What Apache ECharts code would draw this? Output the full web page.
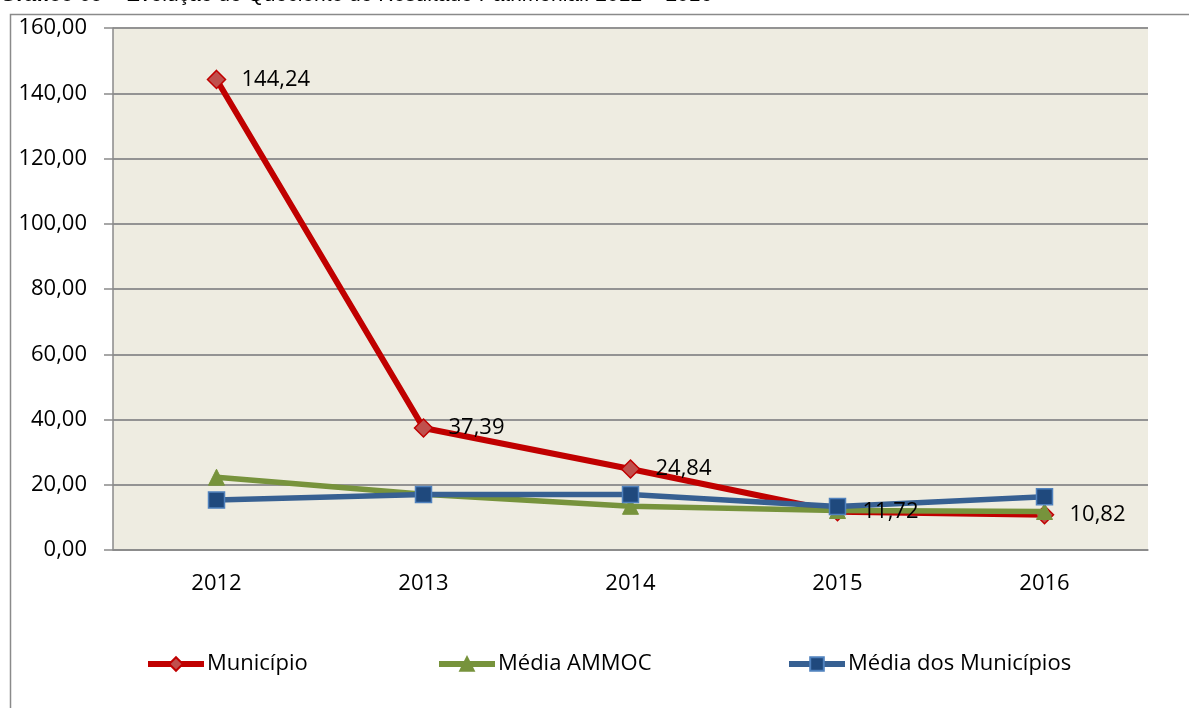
<!DOCTYPE html>
<html lang="pt">
<head>
    <meta charset="UTF-8">
    <title>Quociente do Resultado Patrimonial</title>
    <script src="https://cdn.jsdelivr.net/npm/echarts@6/dist/echarts.min.js"></script>
    <style>
        html, body { margin: 0; padding: 0; background: #fff; }
        #main { width: 1189px; height: 708px; }
    </style>
</head>
<body>
<div id="main"></div>
<script>
    // dados do gráfico
    var anos = ['2012', '2013', '2014', '2015', '2016'];
    var municipio = [144.24, 37.39, 24.84, 11.72, 10.82];
    var mediaAmmoc = [22.3, 17.1, 13.4, 12.1, 11.8];
    var mediaMunicipios = [15.3, 17.0, 17.0, 13.3, 16.3];
    var nomes = ['Município', 'Média AMMOC', 'Média dos Municípios'];

    var fonte = '"Open Sans", "Noto Sans", sans-serif';
    var fmt = function (v) { return v.toFixed(2).replace('.', ','); };

    var myChart = echarts.init(document.getElementById('main'));

    // uma legenda por item para posicionar como no original
    function legenda(nome, x) {
        return {
            left: x, top: 648,
            data: [nome],
            itemWidth: 56, itemHeight: 17, itemGap: 0,
            lineStyle: { width: 6 },
            textStyle: { fontFamily: fonte, fontSize: 22, color: '#000', padding: [0, 0, 0, -2] }
        };
    }

    var option = {
        animation: false,
        backgroundColor: '#fff',
        graphic: [
            {
                type: 'rect', silent: true,
                shape: { x: 10.5, y: 14.5, width: 1400, height: 900 },
                style: { fill: 'none', stroke: '#8a8a8a', lineWidth: 1.5 }
            },
            {
                type: 'text', left: 0, top: -15, silent: true,
                style: {
                    text: '{b|Gráfico 09 – }Evolução do Quociente do Resultado Patrimonial: 2012 – 2016',
                    fontFamily: 'Liberation Sans, Arial, sans-serif', fontSize: 21, fill: '#000',
                    rich: { b: { fontWeight: 'bold', fontFamily: 'Liberation Sans, Arial, sans-serif', fontSize: 21 } }
                }
            }
        ],
        legend: [
            legenda(nomes[0], 140),
            legenda(nomes[1], 431),
            legenda(nomes[2], 781)
        ],
        grid: {
            left: 113, right: 41, top: 28, bottom: 158,
            show: true, backgroundColor: '#EEECE1', borderWidth: 0
        },
        xAxis: {
            type: 'category',
            data: anos,
            boundaryGap: true,
            axisLine: { lineStyle: { color: '#8a8a8a', width: 1.5 } },
            axisTick: { show: false },
            axisLabel: { fontFamily: fonte, fontSize: 22, color: '#000', margin: 23 }
        },
        yAxis: {
            type: 'value',
            min: 0, max: 160, interval: 20,
            axisLine: { show: true, lineStyle: { color: '#8a8a8a', width: 1.5 } },
            axisTick: { show: true, length: 9, lineStyle: { color: '#8a8a8a', width: 1.5 } },
            splitLine: { lineStyle: { color: '#939393', width: 2 } },
            axisLabel: {
                fontFamily: fonte, fontSize: 22, color: '#000', margin: 26,
                formatter: fmt
            }
        },
        series: [
            {
                name: nomes[0], type: 'line', data: municipio,
                symbol: 'diamond', symbolSize: 18,
                lineStyle: { color: '#C00000', width: 6 },
                itemStyle: { color: '#C0504D', borderColor: '#C00000', borderWidth: 1.5 },
                z: 2
            },
            {
                name: nomes[1], type: 'line', data: mediaAmmoc,
                symbol: 'triangle', symbolSize: 16,
                lineStyle: { color: '#77933C', width: 5.5 },
                itemStyle: { color: '#77933C', borderColor: '#77933C', borderWidth: 1 },
                z: 3
            },
            {
                name: nomes[2], type: 'line', data: mediaMunicipios,
                symbol: 'rect', symbolSize: 16,
                lineStyle: { color: '#376092', width: 5.5 },
                itemStyle: { color: '#1F497D', borderColor: '#4F81BD', borderWidth: 1.5 },
                z: 4
            },
            {
                // rótulos do Município por cima das outras séries
                name: 'rotulos', type: 'line', data: municipio,
                symbol: 'diamond', symbolSize: 18,
                lineStyle: { width: 0, color: 'rgba(0,0,0,0)' },
                itemStyle: { color: 'rgba(0,0,0,0)', borderWidth: 0 },
                label: {
                    show: true, position: 'right', distance: 16,
                    fontFamily: fonte, fontSize: 22, color: '#000',
                    formatter: function (p) { return fmt(p.value); }
                },
                silent: true,
                z: 6
            }
        ]
    };
    myChart.setOption(option);
</script>
</body>
</html>
